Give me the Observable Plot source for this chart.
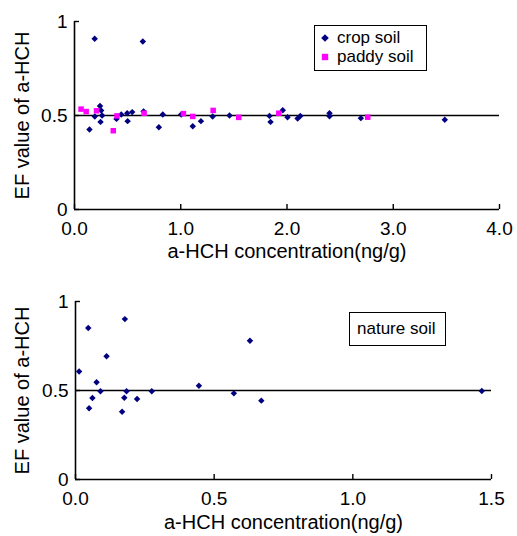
<!DOCTYPE html>
<html>
<head>
<meta charset="utf-8">
<script src="https://cdn.jsdelivr.net/npm/d3@7"></script>
<script src="https://cdn.jsdelivr.net/npm/@observablehq/plot@0.6"></script>
<style>
  html, body { margin: 0; padding: 0; background: #fff; }
  #wrap { position: relative; width: 517px; height: 536px; font-family: "Liberation Sans", Arial, Helvetica, sans-serif; }
  #wrap > svg { display: block; }
  #wrap .legend { position: absolute; border: 1.5px solid #000; background: #fff; box-sizing: border-box; font-size: 17px; color: #000; }
  #wrap .legend .row { position: absolute; left: 0; white-space: nowrap; line-height: 17px; display: flex; align-items: center; }
  #wrap .legend svg { display: block; flex: none; }
</style>
</head>
<body>
<div id="wrap"></div>
<script>
// ---- data ----
const cropX = [0.19, 0.643, 0.141, 0.191, 0.240, 0.251, 0.26, 0.245, 0.395, 0.44, 0.496, 0.50, 0.543, 0.65, 0.794, 0.831, 1.004, 1.113, 1.19, 1.30, 1.459, 1.835, 1.845, 1.96, 2.005, 2.10, 2.125, 2.40, 2.40, 2.695, 3.485];
const cropY = [0.908, 0.894, 0.426, 0.495, 0.551, 0.527, 0.50, 0.466, 0.482, 0.505, 0.512, 0.47, 0.518, 0.522, 0.438, 0.505, 0.505, 0.443, 0.47, 0.495, 0.50, 0.498, 0.466, 0.528, 0.491, 0.484, 0.497, 0.512, 0.496, 0.486, 0.477];
const paddyX = [0.062, 0.11, 0.207, 0.365, 0.40, 0.655, 1.025, 1.113, 1.305, 1.546, 1.923, 2.76];
const paddyY = [0.534, 0.521, 0.525, 0.419, 0.498, 0.512, 0.51, 0.495, 0.527, 0.49, 0.512, 0.491];
const natureX = [0.013, 0.046, 0.112, 0.178, 0.076, 0.09, 0.061, 0.049, 0.184, 0.176, 0.222, 0.168, 0.275, 0.445, 0.571, 0.629, 0.67, 1.465];
const natureY = [0.607, 0.851, 0.692, 0.901, 0.546, 0.496, 0.458, 0.40, 0.496, 0.459, 0.452, 0.381, 0.496, 0.527, 0.484, 0.78, 0.443, 0.497];
const yTicks = [0, 0.5, 1];
const yTickLabels = ["0", "0.5", "1"];
const topXTicks = [0, 1, 2, 3, 4];
const bottomXTicks = [0, 0.5, 1, 1.5];
const xTitle = "a-HCH concentration(ng/g)";
const yTitle = "EF value of a-HCH";
const refLine = 0.5;
const topLegend = ["crop soil", "paddy soil"];
const bottomLegend = "nature soil";

const FONT = '"Liberation Sans", Arial, Helvetica, sans-serif';
const NAVY = "#000080", MAGENTA = "#ff00ff";
const crop = cropX.map((x, i) => ({x, y: cropY[i]}));
const paddy = paddyX.map((x, i) => ({x, y: paddyY[i]}));
const nature = natureX.map((x, i) => ({x, y: natureY[i]}));
const yFmt = d => yTickLabels[yTicks.indexOf(d)];
const xFmt = d3.format(".1f");

function panel({height, marginTop, marginBottom, marginLeft, marginRight, xDomain, xTicks, series, xLabelOffset, yLabelOffset, xTickPadding}) {
  return Plot.plot({
    width: 517, height, marginTop, marginBottom, marginLeft, marginRight,
    style: {fontFamily: FONT, background: "#fff", color: "#000"},
    x: {domain: xDomain},
    y: {domain: [0, 1]},
    marks: [
      Plot.ruleY([refLine], {stroke: "#000", strokeWidth: 1.6}),
      Plot.ruleX([xDomain[0]], {stroke: "#000", strokeWidth: 1.6}),
      Plot.ruleY([0], {stroke: "#000", strokeWidth: 1.6}),
      Plot.axisY({ticks: yTicks, tickFormat: yFmt, tickSize: -5, tickPadding: 12, fontSize: 19, strokeWidth: 1.4,
        label: yTitle, labelAnchor: "center", labelArrow: "none", labelOffset: yLabelOffset}),
      Plot.axisX({ticks: xTicks, tickFormat: xFmt, tickSize: -5, tickPadding: xTickPadding, fontSize: 19, strokeWidth: 1.4,
        label: xTitle, labelAnchor: "center", labelArrow: "none", labelOffset: xLabelOffset}),
      ...series
    ]
  });
}

const topChart = panel({
  height: 262, marginTop: 21, marginBottom: 53, marginLeft: 74, marginRight: 18,
  xDomain: [0, 4], xTicks: topXTicks, xLabelOffset: 48, yLabelOffset: 60, xTickPadding: 17,
  series: [
    Plot.dot(crop, {x: "x", y: "y", symbol: "diamond2", r: 2.9, fill: NAVY, stroke: "none"}),
    Plot.dot(paddy, {x: "x", y: "y", symbol: "square", r: 3.1, fill: MAGENTA, stroke: "none"})
  ]
});
const bottomChart = panel({
  height: 274, marginTop: 39, marginBottom: 57, marginLeft: 75, marginRight: 26,
  xDomain: [0, 1.5], xTicks: bottomXTicks, xLabelOffset: 49, yLabelOffset: 61, xTickPadding: 17,
  series: [
    Plot.dot(nature, {x: "x", y: "y", symbol: "diamond2", r: 2.9, fill: NAVY, stroke: "none"})
  ]
});

const wrap = document.getElementById("wrap");
wrap.appendChild(topChart);
wrap.appendChild(bottomChart);
for (const svg of [topChart, bottomChart]) {
  svg.querySelectorAll('[aria-label$="axis label"]').forEach(el => el.setAttribute("font-size", 20));
}

function legendBox(left, topPx, w, h) {
  const d = document.createElement("div");
  d.className = "legend";
  Object.assign(d.style, {left: left + "px", top: topPx + "px", width: w + "px", height: h + "px"});
  wrap.appendChild(d);
  return d;
}
function row(box, topPx, leftPx, html) {
  const r = document.createElement("div");
  r.className = "row";
  r.style.top = topPx + "px";
  r.style.left = leftPx + "px";
  r.innerHTML = html;
  box.appendChild(r);
}
const lb = legendBox(314, 25, 113, 46);
row(lb, 3, 5, `<svg width="10" height="10" style="margin-right:7px"><path d="M5,1.2L8.8,5L5,8.8L1.2,5Z" fill="${NAVY}"/></svg><span>${topLegend[0]}</span>`);
row(lb, 22, 5, `<svg width="10" height="10" style="margin-right:7px"><rect x="1.8" y="1.8" width="6.4" height="6.4" fill="${MAGENTA}"/></svg><span>${topLegend[1]}</span>`);
const nb = legendBox(349, 312, 97, 34);
row(nb, 7, 7, `<span>${bottomLegend}</span>`);
</script>
</body>
</html>
